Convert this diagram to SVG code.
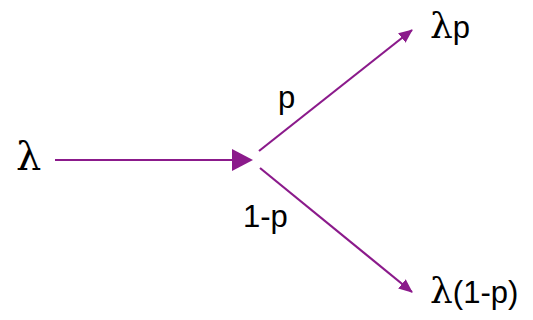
<svg xmlns="http://www.w3.org/2000/svg" width="533" height="320" viewBox="0 0 533 320">
<style>
.lbl{font-family:"Liberation Sans",Arial,sans-serif;font-size:31px;fill:#000}
.lam{font-family:"DejaVu Serif",serif;font-size:40px}
.lams{font-family:"DejaVu Serif",serif;font-size:36px}
.conn{stroke:#8B1A8B;stroke-width:2.2;fill:none}
</style>
<defs>
<marker id="ah" markerUnits="userSpaceOnUse" markerWidth="14" markerHeight="12" refX="13" refY="6" orient="auto">
<path d="M0,0 L14,6 L0,12 z" fill="#8B1A8B"/>
</marker>
</defs>
<rect width="533" height="320" fill="#fff"/>
<g id="connectors">
<line class="conn" x1="55" y1="160" x2="236" y2="160"/>
<polygon points="232,149 253,160 232,171" fill="#8B1A8B"/>
<line class="conn" x1="259" y1="151" x2="412" y2="30" marker-end="url(#ah)"/>
<line class="conn" x1="260" y1="168" x2="412" y2="292" marker-end="url(#ah)"/>
</g>
<g id="node-input"><text class="lam" x="16" y="170">λ</text></g>
<g id="label-p"><text class="lbl" x="278" y="108">p</text></g>
<g id="label-1-p"><text class="lbl" x="243" y="227">1-p</text></g>
<g id="node-top"><text class="lbl" x="430" y="38"><tspan class="lams">λ</tspan>p</text></g>
<g id="node-bottom"><text class="lbl" x="430" y="303"><tspan class="lams">λ</tspan>(1-p)</text></g>
</svg>
